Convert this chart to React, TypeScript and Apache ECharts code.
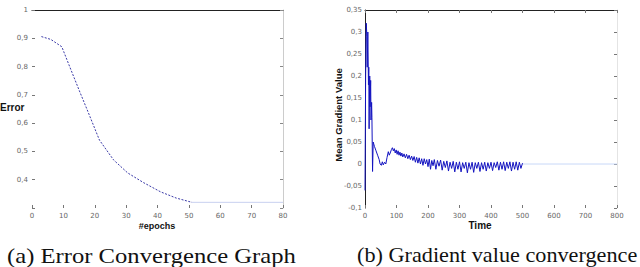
import React, { useEffect, useRef } from "react";
import * as echarts from "echarts";

// Left chart: error vs epochs
const errorEpochs = [3, 6, 9.5, 12, 15, 18, 21.5, 26, 30.5, 35.5, 41, 46, 51];
const errorValues = [0.906, 0.896, 0.87, 0.8, 0.717, 0.636, 0.54, 0.47, 0.424, 0.39, 0.357, 0.335, 0.32];
const errorTail: [number, number][] = [[51, 0.32], [80, 0.32]];
const errorYTicks = ["", "0,4", "0,5", "0,6", "0,7", "0,8", "0,9", "1"];

// Right chart: mean gradient value vs time
const gradTime = [0, 2, 4, 6, 7, 9, 11, 12, 13, 15, 16, 18, 19, 21, 22, 24, 26, 30, 35, 40, 45, 48, 52, 55, 58, 62, 66, 70, 74, 77, 80, 84, 87, 90, 93, 96, 99, 102, 105, 108, 111, 114, 117, 120, 124, 128, 132, 136, 140, 144, 148, 152, 156, 160, 164, 168, 172, 176, 180, 184, 188, 192, 196, 200, 204, 208, 212, 216, 220, 225, 230, 235, 240, 245, 250, 255, 260, 265, 270, 275, 280, 285, 290, 295, 300, 305, 310, 315, 320, 325, 330, 335, 340, 345, 350, 355, 360, 365, 370, 375, 380, 385, 390, 395, 400, 405, 410, 415, 420, 425, 430, 435, 440, 445, 450, 455, 460, 465, 470, 475, 480, 485, 490, 495, 500];
const gradValues = [-0.06, 0.2, 0.32, 0.29, 0.22, 0.3, 0.18, 0.22, 0.08, 0.2, 0.13, 0.19, 0.1, 0.14, 0.105, -0.017, 0.05, 0.04, 0.03, 0.02, 0.01, 0.0, -0.003, 0.005, -0.002, 0.004, 0.0, 0.015, 0.028, 0.02, 0.025, 0.033, 0.037, 0.03, 0.035, 0.025, 0.032, 0.022, 0.03, 0.02, 0.027, 0.018, 0.025, 0.016, 0.023, 0.014, 0.022, 0.012, 0.02, 0.01, 0.018, 0.008, 0.017, 0.004, 0.015, 0.002, 0.014, 0.0, 0.012, -0.003, 0.012, 0.0, 0.01, -0.006, 0.011, -0.012, 0.008, -0.004, 0.01, -0.012, 0.008, -0.005, 0.009, -0.014, 0.006, -0.008, 0.007, -0.016, 0.004, -0.01, 0.006, -0.018, 0.004, -0.012, 0.005, -0.018, 0.003, -0.01, 0.004, -0.02, 0.003, -0.012, 0.004, -0.019, 0.003, -0.01, 0.004, -0.017, 0.003, -0.012, 0.004, -0.016, 0.003, -0.01, 0.004, -0.015, 0.003, -0.008, 0.005, -0.014, 0.004, -0.012, 0.005, -0.015, 0.004, -0.01, 0.005, -0.016, 0.004, -0.012, 0.005, -0.014, 0.004, -0.01, 0.002];
const gradTail: [number, number][] = [[500, 0], [800, 0]];

const captionA = "(a) Error Convergence Graph";
const captionB = "(b) Gradient value convergence";

const tickFont = { fontSize: 7, color: "#666", fontFamily: "DejaVu Sans" };

export default function App() {
  const ref = useRef<HTMLDivElement>(null);
  useEffect(() => {
    if (!ref.current) return;
    const chart = echarts.init(ref.current, null, { renderer: "svg" });
    const fmtComma = (v: number) => String(Math.round(v * 1000) / 1000).replace(".", ",");
    chart.setOption({
      animation: false,
      backgroundColor: "#fff",
      grid: [
        { left: 32, top: 10, width: 251, height: 198 },
        { left: 365, top: 10, width: 252, height: 198 },
      ],
      xAxis: [
        {
          gridIndex: 0, type: "value", min: 0, max: 80, interval: 10,
          axisLine: { show: false, onZero: false },
          axisTick: { show: true, inside: true, length: 3, lineStyle: { color: "#777" } },
          axisLabel: { ...tickFont, margin: 4 },
          splitLine: { show: false },
        },
        {
          gridIndex: 0, type: "value", min: 0, max: 80, interval: 10, position: "top",
          axisLine: { show: true, onZero: false, lineStyle: { color: "#222", width: 1 } },
          axisTick: { show: false }, axisLabel: { show: false }, splitLine: { show: false },
        },
        {
          gridIndex: 1, type: "value", min: 0, max: 800, interval: 100,
          axisLine: { show: false, onZero: false },
          axisTick: { show: true, inside: true, length: 3, lineStyle: { color: "#777" } },
          axisLabel: { ...tickFont, margin: 4 },
          splitLine: { show: false },
        },
        {
          gridIndex: 1, type: "value", min: 0, max: 800, interval: 100, position: "top",
          axisLine: { show: true, onZero: false, lineStyle: { color: "#222", width: 1 } },
          axisTick: { show: true, inside: true, length: 3, lineStyle: { color: "#777" } },
          axisLabel: { show: false }, splitLine: { show: false },
        },
      ],
      yAxis: [
        {
          gridIndex: 0, type: "value", min: 0.3, max: 1.0, interval: 0.1,
          axisLine: { show: false, onZero: false },
          axisTick: { show: true, inside: true, length: 3, lineStyle: { color: "#777" } },
          axisLabel: {
            ...tickFont, margin: 4,
            formatter: (v: number) => errorYTicks[Math.round((v - 0.3) * 10)] ?? "",
          },
          splitLine: { show: false },
        },
        {
          gridIndex: 0, type: "value", min: 0.3, max: 1.0, interval: 0.1, position: "right",
          axisLine: { show: true, onZero: false, lineStyle: { color: "#ccc", width: 1 } },
          axisTick: { show: true, inside: true, length: 3, lineStyle: { color: "#888" } },
          axisLabel: { show: false }, splitLine: { show: false },
        },
        {
          gridIndex: 1, type: "value", min: -0.1, max: 0.35, interval: 0.05,
          axisLine: { show: true, onZero: false, lineStyle: { color: "#222", width: 1 } },
          axisTick: { show: false },
          axisLabel: { ...tickFont, margin: 3, formatter: fmtComma },
          splitLine: { show: false },
        },
        {
          gridIndex: 1, type: "value", min: -0.1, max: 0.35, interval: 0.05, position: "right",
          axisLine: { show: true, onZero: false, lineStyle: { color: "#e4e4e4", width: 1 } },
          axisTick: { show: true, inside: true, length: 3, lineStyle: { color: "#777" } },
          axisLabel: { show: false }, splitLine: { show: false },
        },
      ],
      series: [
        {
          type: "line", xAxisIndex: 0, yAxisIndex: 0, symbol: "none",
          data: errorEpochs.map((x, i) => [x, errorValues[i]]),
          lineStyle: { color: "#3a3aa8", width: 1, type: [2, 1.5] },
        },
        {
          type: "line", xAxisIndex: 0, yAxisIndex: 0, symbol: "none",
          data: errorTail,
          lineStyle: { color: "#c8d0f0", width: 1 },
        },
        {
          type: "line", xAxisIndex: 2, yAxisIndex: 2, symbol: "none",
          data: gradTail,
          lineStyle: { color: "#c8d8f8", width: 1 },
        },
        {
          type: "line", xAxisIndex: 2, yAxisIndex: 2, symbol: "none",
          data: gradTime.map((x, i) => [x, gradValues[i]]),
          lineStyle: { color: "#1414c0", width: 1 },
        },
      ],
      graphic: [
        { type: "text", left: 0, top: 102, style: { text: "Error", font: "bold 10px 'Liberation Sans'", fill: "#111" } },
        { type: "text", x: 157, y: 226, style: { text: "#epochs", font: "bold 9px 'Liberation Sans'", fill: "#111", align: "center", verticalAlign: "middle" } },
        { type: "text", x: 480, y: 225, style: { text: "Time", font: "bold 10px 'Liberation Sans'", fill: "#111", align: "center", verticalAlign: "middle" } },
        { type: "text", x: 338, y: 115, rotation: Math.PI / 2, style: { text: "Mean Gradient Value", font: "bold 9.5px 'Liberation Sans'", fill: "#111", align: "center", verticalAlign: "middle" } },
        { type: "text", x: 7, y: 255, scaleX: 1.12, style: { text: captionA, font: "22px 'Liberation Serif'", fill: "#111", verticalAlign: "middle" } },
        { type: "text", x: 357, y: 255, scaleX: 1.01, style: { text: captionB, font: "22px 'Liberation Serif'", fill: "#111", verticalAlign: "middle" } },
      ],
    });
    return () => chart.dispose();
  }, []);
  return <div ref={ref} style={{ position: "fixed", left: 0, top: 0, width: 640, height: 267 }} />;
}
